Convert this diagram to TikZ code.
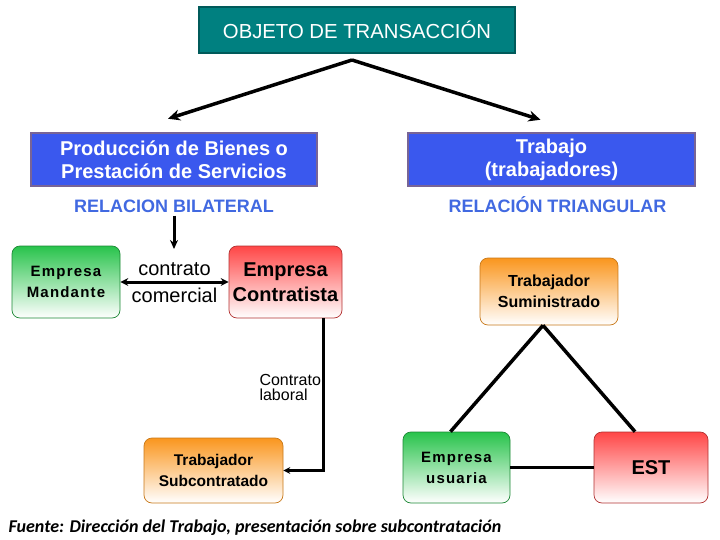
\documentclass[tikz,border=0pt]{standalone}
\usepackage{fontspec}
\setmainfont{Liberation Sans}
\newfontfamily\fuentefont{Carlito}
\newfontfamily\espaciada[LetterSpace=8]{Liberation Sans}
\usepackage{xcolor}
\definecolor{tealbox}{RGB}{0,128,128}
\definecolor{tealedge}{RGB}{0,90,90}
\definecolor{bluebox}{RGB}{58,88,238}
\definecolor{blueedge}{RGB}{120,100,150}
\definecolor{bluetext}{RGB}{65,105,225}
\definecolor{verde}{RGB}{40,195,75}
\definecolor{rojo}{RGB}{255,70,70}
\definecolor{naranja}{RGB}{250,150,30}
\usetikzlibrary{arrows.meta}

\begin{document}
\begin{tikzpicture}[x=1pt, y=-1pt,
    topbox/.style={draw=tealedge, line width=1.5pt, fill=tealbox, text=white,
        inner sep=0, minimum width=316, minimum height=46},
    bluebox/.style={draw=blueedge, line width=2.5pt, fill=bluebox, text=white,
        inner sep=0, minimum width=286, minimum height=53, align=center,
        font=\fontsize{20}{23}\selectfont\bfseries},
    relacion/.style={text=bluetext, anchor=base, font=\fontsize{18}{20}\selectfont\bfseries},
    cajita/.style={rounded corners=8pt, line width=0.7pt, inner sep=0,
        bottom color=white, align=center},
    flecha/.style={-{Stealth[length=9pt,width=8pt]}, line width=3pt},
    linea/.style={line width=3.5pt},
]

\useasboundingbox (0,0) rectangle (720,540);

%% --- objeto de transaccion ---
\node[topbox, font=\fontsize{20.3}{22}\selectfont] (objeto) at (357,30)
    {OBJETO DE TRANSACCIÓN};

%% --- ramas superiores ---
\node[bluebox] (prod) at (174,159.5)
    {Producción de Bienes o\\Prestación de Servicios};
\node[bluebox, minimum width=287] (trab) at (551.5,159.5)
    {Trabajo\\(trabajadores)};

\coordinate (vertice) at (352,60);
\draw[linea, -{Stealth[length=12pt,width=11pt]}] (vertice) -- ([xshift=-6pt,yshift=13pt]prod.north);
\draw[linea, -{Stealth[length=12pt,width=11pt]}] (vertice) -- ([xshift=-11pt,yshift=12pt]trab.north);

\node[relacion] (bilat) at (174,212) {RELACION BILATERAL};
\node[relacion] (trian) at (557.5,212) {RELACIÓN TRIANGULAR};

%% --- relacion bilateral ---
\node[cajita, draw=verde!70!black, top color=verde, minimum width=108, minimum height=72,
    font=\espaciada\fontsize{15}{21}\selectfont\bfseries] (mand) at (66,282)
    {Empresa\\Mandante};
\node[cajita, draw=rojo!70!black, top color=rojo, minimum width=113, minimum height=72,
    font=\fontsize{20}{25}\selectfont\bfseries] (contr) at (285.5,282)
    {Empresa\\Contratista};

\coordinate (bilatfin) at (174,249);
\draw[flecha] (bilat.south) -- (bilatfin);

\draw[{Stealth[length=8pt,width=8pt]}-{Stealth[length=8pt,width=8pt]}, line width=3pt]
    (mand.east) -- node[above=1pt, font=\fontsize{20}{22}\selectfont] {contrato}
    node[below=1pt, font=\fontsize{20}{22}\selectfont] {comercial} (contr.west);

\node[cajita, draw=naranja!80!black, top color=naranja, minimum width=139, minimum height=65,
    font=\fontsize{15.5}{21}\selectfont\bfseries] (subc) at (213.5,470.5)
    {Trabajador\\Subcontratado};

\draw[line width=3pt, -{Stealth[length=7pt,width=7pt]}]
    ([xshift=-19pt]contr.south east) |- (subc.east);
\node[anchor=west, align=left, font=\fontsize{16}{15}\selectfont] (laboral) at (256,387)
    {Contrato\\laboral};

%% --- relacion triangular ---
\node[cajita, draw=naranja!80!black, top color=naranja, minimum width=138, minimum height=67,
    font=\fontsize{16}{21}\selectfont\bfseries] (sumin) at (549,291.5)
    {Trabajador\\Suministrado};
\node[cajita, draw=verde!70!black, top color=verde, minimum width=107, minimum height=71,
    font=\espaciada\fontsize{15}{21}\selectfont\bfseries] (usu) at (456.5,467.5)
    {Empresa\\usuaria};
\node[cajita, draw=rojo!70!black, top color=rojo, minimum width=114, minimum height=71,
    font=\fontsize{20}{24}\selectfont\bfseries] (est) at (651,467.5)
    {EST};

\draw[linea] ([xshift=-6pt]sumin.south) -- ([xshift=-6pt]usu.north);
\draw[linea] ([xshift=-6pt]sumin.south) -- ([xshift=-16pt]est.north);
\draw[linea] (usu.east) -- (est.west);

%% --- fuente ---
\node[anchor=west, font=\fuentefont\fontsize{18}{20}\selectfont\bfseries\itshape] (fuente) at (5,528)
    {Fuente: Dirección del Trabajo, presentación sobre subcontratación};

\end{tikzpicture}
\end{document}
